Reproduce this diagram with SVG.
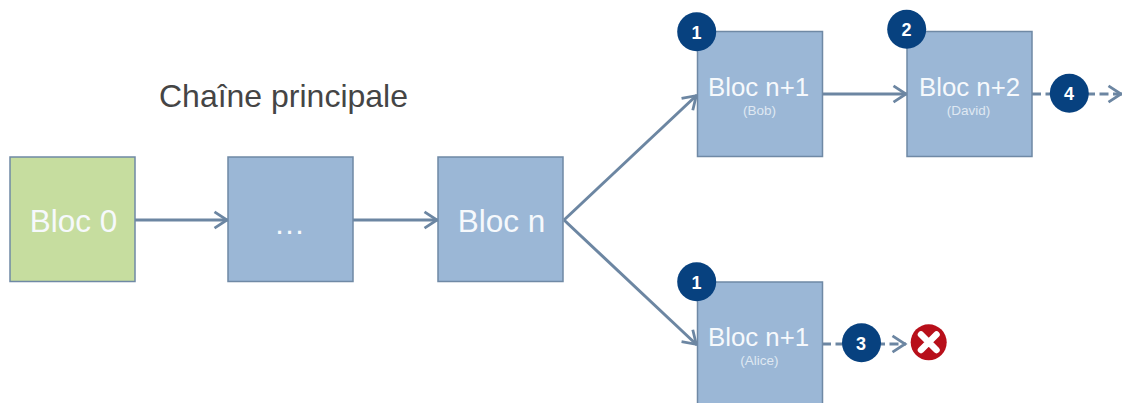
<svg xmlns="http://www.w3.org/2000/svg" width="1122" height="403" viewBox="0 0 1122 403">
<defs>
<marker id="arrow" markerUnits="userSpaceOnUse" markerWidth="20" markerHeight="22" refX="16.500" refY="11" orient="auto"><path d="M3 2.800L15.500 11L3 19.200" fill="none" stroke="#6c86a2" stroke-width="2.800"/></marker>
</defs>
<style>
.block{stroke:#6f89a5;stroke-width:1.5}
.blue{fill:#9bb7d6}
.green{fill:#c6dd9f}
.label{font-family:"Liberation Sans",Arial,sans-serif;fill:#f6f9fc;text-anchor:middle}
.big{font-size:31.500px}
.mid{font-size:25.800px}
.small{font-size:13.500px;fill:#dfe8f2}
.conn{fill:none;stroke:#6c86a2;stroke-width:3;marker-end:url(#arrow)}
.dash{stroke-dasharray:9 4.500}
.badge{fill:#07417f}
.num{font-family:"Liberation Sans",Arial,sans-serif;font-weight:bold;font-size:18px;fill:#fff;text-anchor:middle}
</style>
<rect width="1122" height="403" fill="#fff"/>
<g id="connectors">
<path class="conn" d="M135 220H228"/>
<path class="conn" d="M353 220H438"/>
<path class="conn" d="M564 220L697 95"/>
<path class="conn" d="M564 220L697 345"/>
<path class="conn" d="M822 94H907"/>
<path class="conn dash" d="M1032 94H1122"/>
<path class="conn dash" d="M822 344H906"/>
</g>
<text id="title" x="283.500" y="107" font-family="'Liberation Sans',Arial,sans-serif" font-size="32" fill="#454545" text-anchor="middle">Chaîne principale</text>
<g id="bloc0"><rect class="block green" x="10" y="157" width="125" height="124.500"/><text class="label big" x="73.500" y="231.500">Bloc 0</text></g>
<g id="bloc-dots"><rect class="block blue" x="228" y="157" width="125" height="124.500"/><text class="label big" x="289.500" y="234">…</text></g>
<g id="bloc-n"><rect class="block blue" x="438" y="157" width="125" height="124.500"/><text class="label big" x="501.500" y="231.500">Bloc n</text></g>
<g id="bloc-bob"><rect class="block blue" x="697.500" y="31.500" width="125" height="125"/><text class="label mid" x="758.500" y="95.500">Bloc n+1</text><text class="label small" x="759.500" y="115">(Bob)</text></g>
<g id="bloc-david"><rect class="block blue" x="907" y="31.500" width="125" height="125"/><text class="label mid" x="969.500" y="95.500">Bloc n+2</text><text class="label small" x="968.500" y="115">(David)</text></g>
<g id="bloc-alice"><rect class="block blue" x="697.500" y="282" width="125" height="130"/><text class="label mid" x="758.500" y="345.500">Bloc n+1</text><text class="label small" x="759.500" y="365">(Alice)</text></g>
<g id="badge-1a"><circle class="badge" cx="696.700" cy="31.700" r="19.500"/><text class="num" x="696.500" y="38.500">1</text></g>
<g id="badge-2"><circle class="badge" cx="906.700" cy="29.300" r="19.500"/><text class="num" x="906.500" y="36">2</text></g>
<g id="badge-4"><circle class="badge" cx="1069.300" cy="93.300" r="19.500"/><text class="num" x="1069" y="100">4</text></g>
<g id="badge-1b"><circle class="badge" cx="696.700" cy="281.700" r="19.500"/><text class="num" x="696.500" y="288.500">1</text></g>
<g id="badge-3"><circle class="badge" cx="861.500" cy="342.700" r="19.500"/><text class="num" x="861" y="349.500">3</text></g>
<g id="reject"><circle cx="928.700" cy="342.300" r="18" fill="#b80f1a"/><path d="M921 334.500L936.500 350M936.500 334.500L921 350" stroke="#fff" stroke-width="6.500" stroke-linecap="round"/></g>
</svg>
